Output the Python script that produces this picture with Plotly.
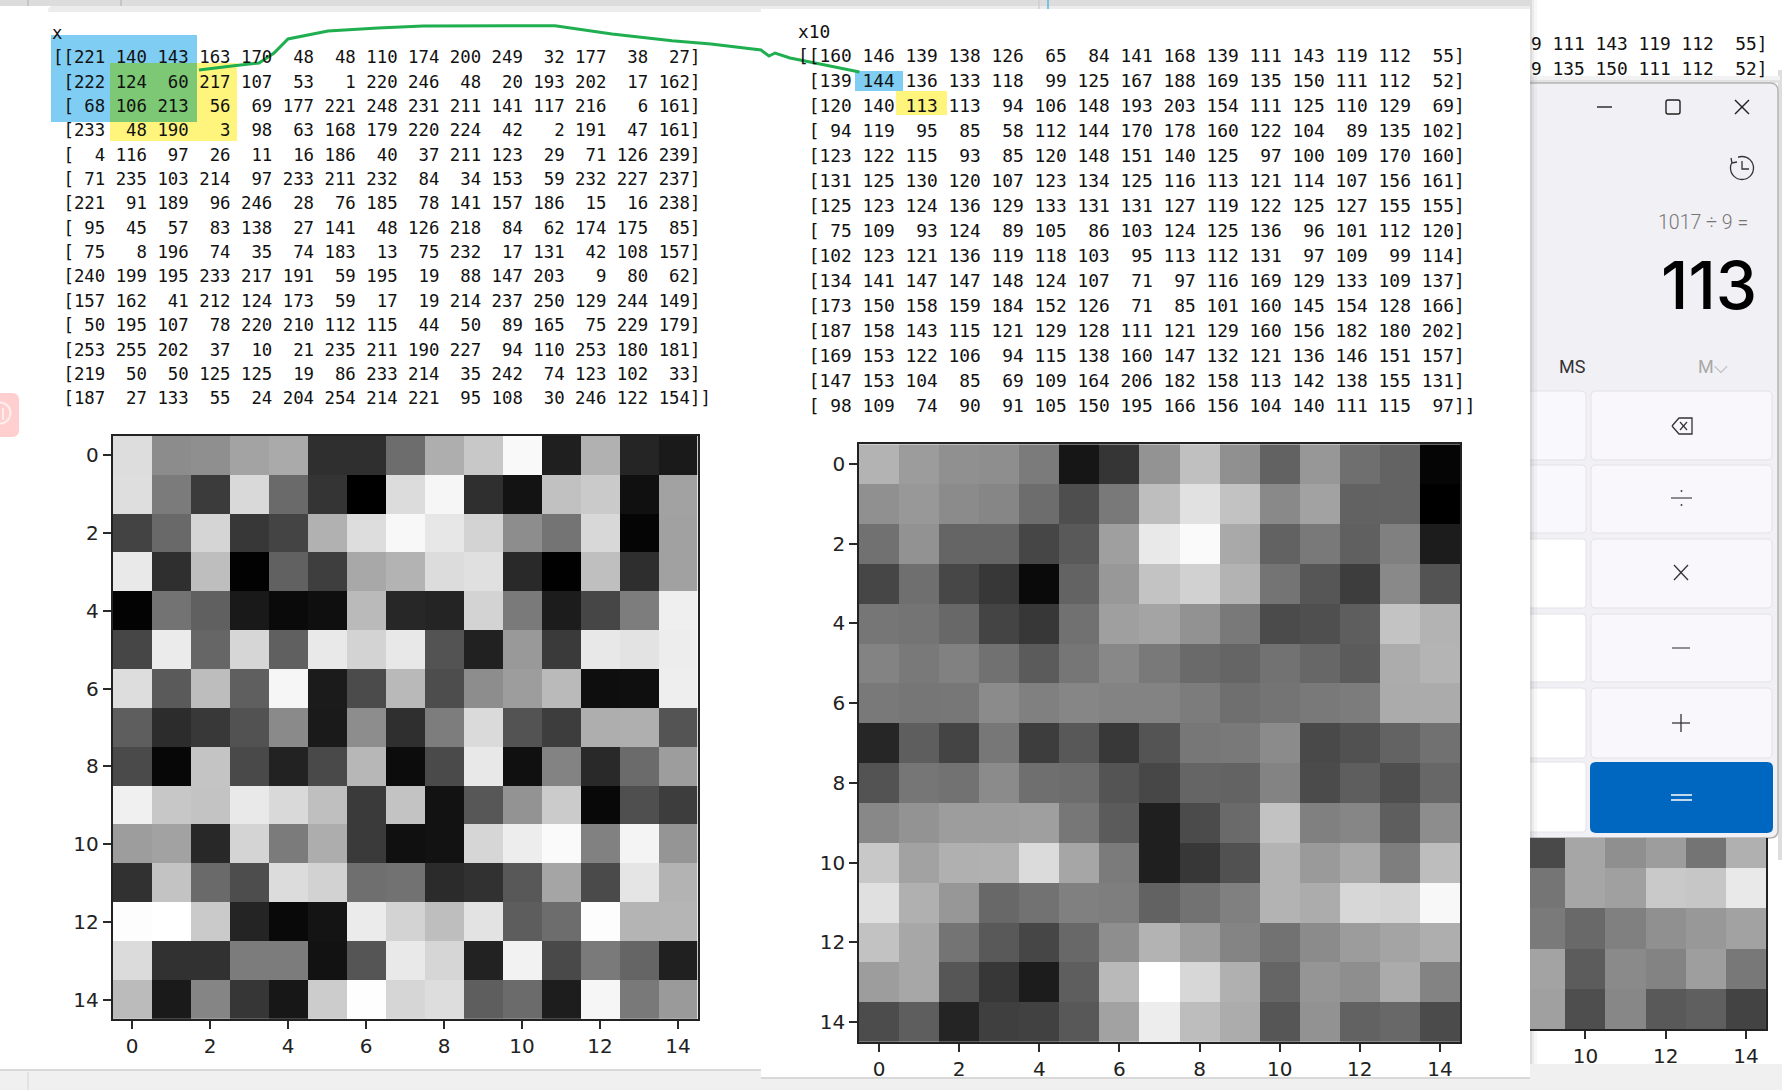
import plotly.graph_objects as go

W, H = 1782, 1090

x_values = [
    [221,140,143,163,170,48,48,110,174,200,249,32,177,38,27],
    [222,124,60,217,107,53,1,220,246,48,20,193,202,17,162],
    [68,106,213,56,69,177,221,248,231,211,141,117,216,6,161],
    [233,48,190,3,98,63,168,179,220,224,42,2,191,47,161],
    [4,116,97,26,11,16,186,40,37,211,123,29,71,126,239],
    [71,235,103,214,97,233,211,232,84,34,153,59,232,227,237],
    [221,91,189,96,246,28,76,185,78,141,157,186,15,16,238],
    [95,45,57,83,138,27,141,48,126,218,84,62,174,175,85],
    [75,8,196,74,35,74,183,13,75,232,17,131,42,108,157],
    [240,199,195,233,217,191,59,195,19,88,147,203,9,80,62],
    [157,162,41,212,124,173,59,17,19,214,237,250,129,244,149],
    [50,195,107,78,220,210,112,115,44,50,89,165,75,229,179],
    [253,255,202,37,10,21,235,211,190,227,94,110,253,180,181],
    [219,50,50,125,125,19,86,233,214,35,242,74,123,102,33],
    [187,27,133,55,24,204,254,214,221,95,108,30,246,122,154],
]
x10_values = [
    [160,146,139,138,126,65,84,141,168,139,111,143,119,112,55],
    [139,144,136,133,118,99,125,167,188,169,135,150,111,112,52],
    [120,140,113,113,94,106,148,193,203,154,111,125,110,129,69],
    [94,119,95,85,58,112,144,170,178,160,122,104,89,135,102],
    [123,122,115,93,85,120,148,151,140,125,97,100,109,170,160],
    [131,125,130,120,107,123,134,125,116,113,121,114,107,156,161],
    [125,123,124,136,129,133,131,131,127,119,122,125,127,155,155],
    [75,109,93,124,89,105,86,103,124,125,136,96,101,112,120],
    [102,123,121,136,119,118,103,95,113,112,131,97,109,99,114],
    [134,141,147,147,148,124,107,71,97,116,169,129,133,109,137],
    [173,150,158,159,184,152,126,71,85,101,160,145,154,128,166],
    [187,158,143,115,121,129,128,111,121,129,160,156,182,180,202],
    [169,153,122,106,94,115,138,160,147,132,121,136,146,151,157],
    [147,153,104,85,69,109,164,206,182,158,113,142,138,155,131],
    [98,109,74,90,91,105,150,195,166,156,104,140,111,115,97],
]
tick_values = [0, 2, 4, 6, 8, 10, 12, 14]
calc_history = "1017 ÷ 9 ="
calc_result = "113"

MONO = "DejaVu Sans Mono"
SANS = "DejaVu Sans"
UI = "Roboto"
GRAY = [[0, "#000000"], [1, "#ffffff"]]


def px(x):
    return x / W


def py(y):
    return 1 - y / H


shapes = []


def rect(x0, y0, x1, y1, fill, line=None, lw=1, layer="below"):
    shapes.append(dict(type="rect", xref="paper", yref="paper", x0=px(x0), x1=px(x1),
                       y0=py(y0), y1=py(y1), fillcolor=fill, layer=layer,
                       line=dict(color=line or "rgba(0,0,0,0)", width=lw if line else 0)))


def rrect(x0, y0, x1, y1, r, fill, line=None, lw=1, layer="below"):
    P = lambda a, b: f"{px(a):.6f},{py(b):.6f}"
    path = (f"M{P(x0 + r, y0)} L{P(x1 - r, y0)} Q{P(x1, y0)} {P(x1, y0 + r)} "
            f"L{P(x1, y1 - r)} Q{P(x1, y1)} {P(x1 - r, y1)} L{P(x0 + r, y1)} "
            f"Q{P(x0, y1)} {P(x0, y1 - r)} L{P(x0, y0 + r)} Q{P(x0, y0)} {P(x0 + r, y0)} Z")
    shapes.append(dict(type="path", xref="paper", yref="paper", path=path, fillcolor=fill,
                       layer=layer, line=dict(color=line or "rgba(0,0,0,0)", width=lw if line else 0)))


def seg(x0, y0, x1, y1, color, lw=1.2, layer="below"):
    shapes.append(dict(type="line", xref="paper", yref="paper", x0=px(x0), x1=px(x1),
                       y0=py(y0), y1=py(y1), layer=layer, line=dict(color=color, width=lw)))


def circle(cx, cy, r, fill="rgba(0,0,0,0)", line=None, lw=1.2, layer="below"):
    shapes.append(dict(type="circle", xref="paper", yref="paper", x0=px(cx - r), x1=px(cx + r),
                       y0=py(cy + r), y1=py(cy - r), fillcolor=fill, layer=layer,
                       line=dict(color=line or "rgba(0,0,0,0)", width=lw if line else 0)))


def poly(points, color, lw=2.4, layer="above"):
    path = "M" + " L".join(f"{px(a):.6f},{py(b):.6f}" for a, b in points)
    shapes.append(dict(type="path", xref="paper", yref="paper", path=path, layer=layer,
                       line=dict(color=color, width=lw), fillcolor="rgba(0,0,0,0)"))


annotations = []


def text(x, y, s, size, color="#111111", family=MONO, anchor="left", weight=None):
    annotations.append(dict(xref="paper", yref="paper", x=px(x), y=py(y),
                            text=s.replace(" ", "\u00a0"), showarrow=False, xanchor=anchor,
                            yanchor="middle", borderpad=0, borderwidth=0,
                            font=dict(family=family, size=size, color=color,
                                      weight=weight if weight else 400)))


def row_text(row, closing="]", opening=" ["):
    return opening + " ".join(f"{v:3d}" for v in row) + closing


def matrix_rows(m):
    out = []
    for i, row in enumerate(m):
        out.append(row_text(row, "]]" if i == len(m) - 1 else "]", "[[" if i == 0 else " ["))
    return out


# page / window backdrop
rect(0, 0, W, H, "#f0f0f0")
rect(0, 0, 1530, 6, "#dcdcdc")
rect(761, 6, 1530, 9, "#ececec")
rect(1530, 0, W, 1064, "#ffffff")
rect(1778, 70, W, 860, "#dedede")
rect(1530, 76, 1780, 83, "#f2f2f2")
rect(1530, 80, 1780, 83, "#e2e2e2")
seg(28, 0, 28, 6, "#b0b0b0", 1)
seg(121, 0, 121, 6, "#b0b0b0", 1)
seg(1048, 0, 1048, 9, "#5ab8e0", 1.5)
seg(1039, 0, 1039, 9, "#cfcfcf", 1.5)

# left window
rect(0, 6, 761, 1070, "#ffffff")
rrect(48, 6, 900, 20, 5, "#ececec")
rect(0, 12, 761, 30, "#ffffff")
seg(0, 1070, 761, 1070, "#d8d8d8", 2)
seg(28, 1072, 28, 1090, "#d6d6d6", 1)

# highlight blocks
rect(110, 63, 237, 141, "#fff57c")
rect(51, 35, 197, 122, "#7fcdf2")
rect(110, 63, 197, 122, "#7dc874")

# pink side tab
rrect(-12, 393, 19, 437, 7, "#ffcfcf")
circle(0, 413, 10.5, line="#ffeeee", lw=2)
seg(3, 408, 3, 420, "#ffeeee", 2)

# calculator
rrect(1510, 83, 1778, 838, 8, "#f1f0f5", line="#b4b4b4", lw=1.5)
for y0, y1, c in [(391, 460, "#f9f8fc"), (465, 533, "#f9f8fc"), (539, 608, "#ffffff"),
                  (614, 682, "#ffffff"), (688, 758, "#ffffff"), (762, 832, "#ffffff")]:
    rrect(1500, y0, 1586, y1, 4, c, line="#e4e2e8")
for y0, y1 in [(391, 460), (465, 533), (539, 608), (614, 682), (688, 758)]:
    rrect(1591, y0, 1772, y1, 5, "#f9f7fc", line="#e4e2e8")
rrect(1590, 762, 1773, 833, 6, "#0067c0")

# right window over the calculator's left part
rect(761, 9, 1530, 1078, "#ffffff")
seg(761, 1078, 1530, 1078, "#d8d8d8", 2)
rect(1530, 0, 1537, 1064, "rgba(90,90,90,0.05)")
rect(1530, 0, 1534, 1064, "rgba(90,90,90,0.07)")
rect(1530, 0, 1532, 1064, "rgba(90,90,90,0.10)")

# highlight blocks of the right window
rect(855, 71, 903, 91, "#7fcdf2")
rect(896, 91, 947, 115, "#fff57c")

# calculator glyphs
seg(1597, 107, 1612, 107, "#222222", 1.4)
rrect(1666, 100, 1680, 114, 2, "rgba(0,0,0,0)", line="#222222", lw=1.4)
seg(1735, 100, 1749, 114, "#222222", 1.4)
seg(1735, 114, 1749, 100, "#222222", 1.4)
circle(1742, 168, 11.5, line="#333333", lw=1.3)
rect(1729, 156, 1738, 163, "#f1f0f5")
poly([(1731, 158), (1732, 163), (1737, 162)], "#333333", 1.3, "below")
poly([(1742, 161), (1742, 169), (1749, 169)], "#333333", 1.3, "below")
poly([(1672, 426), (1679, 418), (1692, 418), (1692, 434), (1679, 434), (1672, 426)], "#333333", 1.3, "below")
seg(1680, 422, 1687, 430, "#333333", 1.2)
seg(1687, 422, 1680, 430, "#333333", 1.2)
seg(1671, 498, 1692, 498, "#444444", 1.2)
circle(1681.5, 491, 1, fill="#444444")
circle(1681.5, 505, 1, fill="#444444")
seg(1674, 565, 1688, 580, "#333333", 1.3)
seg(1674, 580, 1688, 565, "#333333", 1.3)
seg(1672, 648, 1690, 648, "#555555", 1.3)
seg(1672, 723, 1690, 723, "#333333", 1.3)
seg(1681, 714, 1681, 732, "#333333", 1.3)
seg(1671, 795, 1692, 795, "#ffffff", 1.5)
seg(1671, 800, 1692, 800, "#ffffff", 1.5)

# strip that cuts the third panel's tick labels
rect(1530, 1064, W, H, "#f0f0f0", layer="above")

# hand-drawn connector
green = [(199, 70), (234, 65.7), (259, 63), (274, 53), (288, 39), (328, 31), (378, 28), (423, 26),
         (555, 25.7), (612, 34), (672, 40.7), (711, 44), (761, 50), (769, 56), (775, 53), (790, 58),
         (825, 65), (859.5, 72)]
poly(green, "#1faf50", 3)

# array texts
text(52, 33, "x", 17.3)
text(798, 31, "x10", 17.88)
for i, s in enumerate(matrix_rows(x_values)):
    text(53.2, 57.3 + i * 24.35, s, 17.35)
for i, s in enumerate(matrix_rows(x10_values)):
    text(798, 55.7 + i * 25.0, s, 17.88)
for i in range(2):
    text(1768, 43 + i * 25, row_text(x10_values[i])[-22:], 17.86, anchor="right")

text(1748, 222, calc_history, 19.5, "#757575", UI, "right", 300)
text(1757, 285, calc_result, 66, "#000000", "Inter", "right", 500)
text(1572, 366, "MS", 18, "#333333", UI, "center")
text(1713, 366, "M⌵", 18, "#a8a8a8", UI, "center")


def axis(domain, rng, ticks, size=20, mirror=True, labels=True):
    return dict(domain=domain, range=rng, tickmode="array", tickvals=ticks,
                ticktext=[str(t) for t in ticks], ticks="outside", ticklen=8, tickwidth=1.5,
                tickcolor="#2a2a2a", tickfont=dict(family=SANS, size=size, color="#222222"),
                showgrid=False, zeroline=False, showline=True, linecolor="#222222", linewidth=1.6,
                mirror=mirror, showticklabels=labels)


panels = [
    (x_values, 1, 255, (112.5, 697.5), (435.8, 1019.2), (-0.5, 14.5), (14.5, -0.5)),
    (x10_values, 52, 206, (859, 1460), (444.2, 1041.8), (-0.5, 14.5), (14.5, -0.5)),
    (x10_values, 55, 216, (1530, 1766), (838, 1029.3), (8.62, 14.5), (14.5, 9.75)),
]

fig = go.Figure()
layout_axes = {}
for n, (z, zmin, zmax, xd, yd, xr, yr) in enumerate(panels, start=1):
    suffix = "" if n == 1 else str(n)
    fig.add_trace(go.Heatmap(z=z, x=list(range(15)), y=list(range(15)), zmin=zmin, zmax=zmax,
                             colorscale=GRAY, showscale=False, hoverinfo="skip",
                             xaxis="x" + suffix, yaxis="y" + suffix))
    xa = axis([px(xd[0]), px(xd[1])], list(xr), tick_values if n < 3 else [10, 12, 14], mirror=n < 3)
    ya = axis([py(yd[1]), py(yd[0])], list(yr), tick_values, mirror=n < 3, labels=n < 3)
    xa["anchor"] = "y" + suffix
    ya["anchor"] = "x" + suffix
    if n == 3:
        ya["side"] = "right"
        ya["ticks"] = ""
    layout_axes["xaxis" + suffix] = xa
    layout_axes["yaxis" + suffix] = ya

fig.update_layout(width=W, height=H, margin=dict(l=0, r=0, t=0, b=0), paper_bgcolor="#f0f0f0",
                  plot_bgcolor="#ffffff", showlegend=False, shapes=shapes, annotations=annotations,
                  **layout_axes)

fig.write_html("out.html", config=dict(displayModeBar=False),
               post_script="document.body.style.margin='0';document.body.style.overflow='hidden';")
